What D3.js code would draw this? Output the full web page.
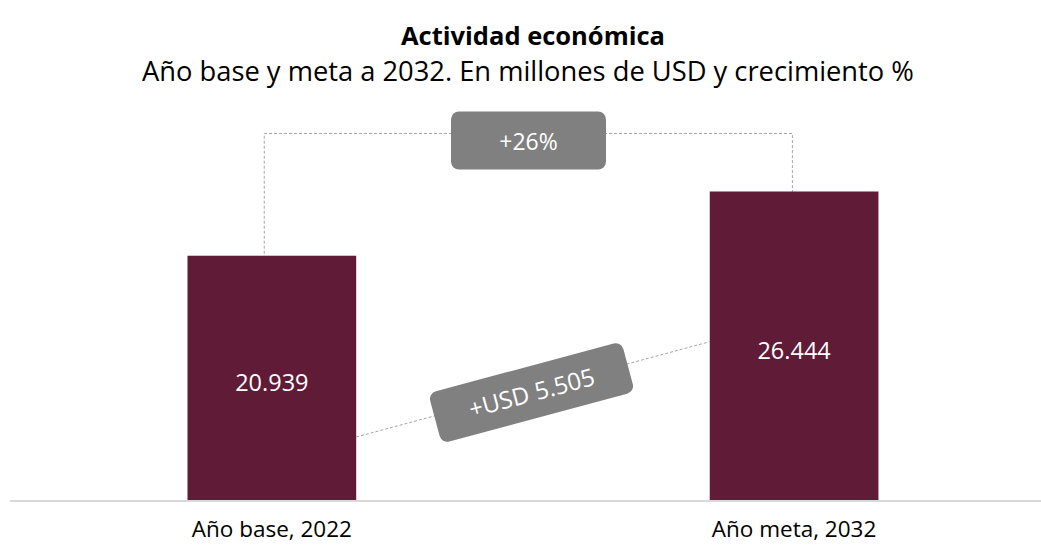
<!DOCTYPE html>
<html><head><meta charset="utf-8">
<script src="https://cdn.jsdelivr.net/npm/d3@7"></script>
<style>body{margin:0;background:#fff;}svg{display:block;font-family:"Open Sans",sans-serif;}</style>
</head><body><svg id="c" width="1041" height="545"></svg>
<script>
const categories = ["Año base, 2022", "Año meta, 2032"];
const values = [20939, 26444];
const valueLabels = ["20.939", "26.444"];
const growthLabel = "+26%";
const diffLabel = "+USD 5.505";
const title = "Actividad económica";
const subtitle = "Año base y meta a 2032. En millones de USD y crecimiento %";

const svg = d3.select("#c");
const W = 1041;
// band positions: bars at 187.5..356 and 710..878
const step = 522.25, pIn = 0.677, pOut = 0.34;
const x0 = 187.5 - pOut * step;
const x = d3.scaleBand().domain(categories)
  .range([x0, x0 + step * (categories.length - pIn + 2 * pOut)])
  .paddingInner(pIn).paddingOuter(pOut);
const y = d3.scaleLinear().domain([0, 26444]).range([500, 191.5]);
const barColor = "#601b36";

svg.append("text").attr("x", 533).attr("y", 44.5).attr("text-anchor", "middle")
  .attr("font-size", 25.5).attr("font-weight", "bold").attr("fill", "#000").text(title);
svg.append("text").attr("x", 528).attr("y", 81).attr("text-anchor", "middle")
  .attr("font-size", 27.3).attr("fill", "#000").text(subtitle);

// axis line
svg.append("line").attr("x1", 10).attr("x2", W).attr("y1", y(0) + 1).attr("y2", y(0) + 1)
  .attr("stroke", "#d9d9d9").attr("stroke-width", 2);

// bracket
const bx = categories.map((c, i) => x(c) + x.bandwidth() * (i === 0 ? 0.455 : 0.49));
const bracketY = 133.5;
svg.append("path")
  .attr("d", `M${bx[0]},${y(values[0]) + 3}V${bracketY}H${bx[1]}V${y(values[1]) + 3}`)
  .attr("fill", "none").attr("stroke", "#a6a6a6").attr("stroke-width", 1).attr("stroke-dasharray", "3,2");

// bars
svg.selectAll("rect.bar").data(values).join("rect").attr("class", "bar")
  .attr("x", (d, i) => x(categories[i])).attr("width", x.bandwidth())
  .attr("y", d => y(d)).attr("height", d => y(0) - y(d)).attr("fill", barColor);

svg.selectAll("text.val").data(values).join("text").attr("class", "val")
  .attr("x", (d, i) => x(categories[i]) + x.bandwidth() / 2)
  .attr("y", d => (y(d) + y(0)) / 2 + 13)
  .attr("text-anchor", "middle").attr("font-size", 23.5).attr("fill", "#fff")
  .text((d, i) => valueLabels[i]);

svg.selectAll("text.cat").data(categories).join("text").attr("class", "cat")
  .attr("x", d => x(d) + x.bandwidth() / 2).attr("y", 537)
  .attr("text-anchor", "middle").attr("font-size", 22.5).attr("fill", "#000").text(d => d);

// +26% box
const g1 = svg.append("g").attr("transform", `translate(528.5,140.5)`);
g1.append("rect").attr("x", -77.5).attr("y", -29).attr("width", 155).attr("height", 58).attr("rx", 8)
  .attr("fill", "#808080");
g1.append("text").attr("y", 9).attr("text-anchor", "middle").attr("font-size", 23).attr("fill", "#fff").text(growthLabel);

// diff line
const x1 = x(categories[0]) + x.bandwidth(), x2 = x(categories[1]);
svg.append("line").attr("x1", x1).attr("y1", 437).attr("x2", x2).attr("y2", 341.7)
  .attr("stroke", "#a6a6a6").attr("stroke-width", 1).attr("stroke-dasharray", "3,2");
const g2 = svg.append("g").attr("transform", `translate(531.5,392.5) rotate(-15)`);
g2.append("rect").attr("x", -100).attr("y", -26).attr("width", 200).attr("height", 52).attr("rx", 8)
  .attr("fill", "#808080");
g2.append("text").attr("y", 9).attr("text-anchor", "middle").attr("font-size", 24).attr("fill", "#fff").text(diffLabel);
</script></body></html>
